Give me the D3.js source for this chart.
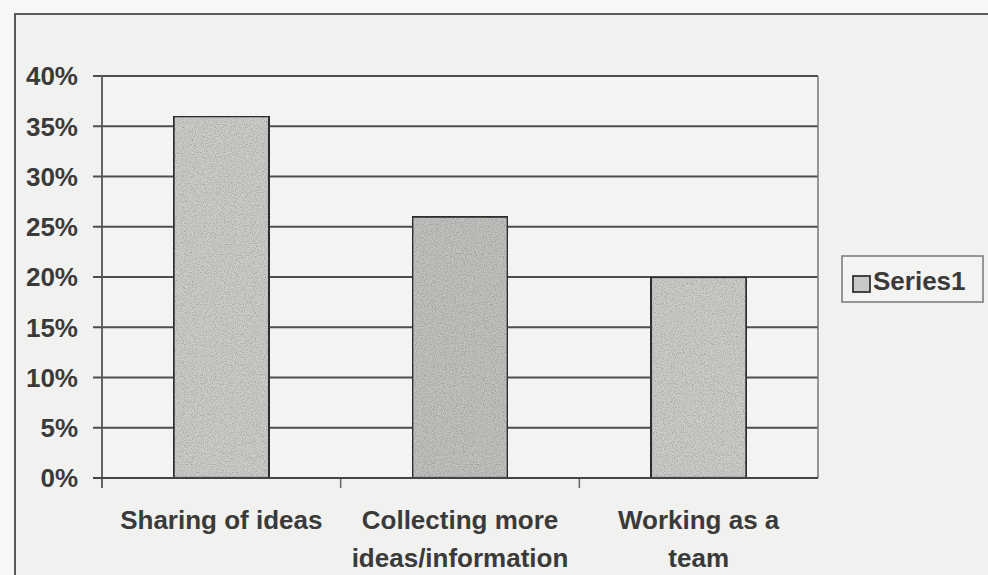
<!DOCTYPE html>
<html>
<head>
<meta charset="utf-8">
<script src="https://cdn.jsdelivr.net/npm/d3@7"></script>
<style>
  html, body { margin: 0; padding: 0; background: #f7f7f5; }
  svg { display: block; }
</style>
</head>
<body>
<script>
const width = 988;
const height = 575;

// Données du graphique
const categories = ["Sharing of ideas", "Collecting more ideas/information", "Working as a team"];
const categoryLines = [["Sharing of ideas"], ["Collecting more", "ideas/information"], ["Working as a", "team"]];
const series1 = [0.36, 0.26, 0.20];
const yTicks = [0, 0.05, 0.10, 0.15, 0.20, 0.25, 0.30, 0.35, 0.40];
const seriesName = "Series1";

const plot = { left: 102, right: 818, top: 76, bottom: 478 };
const font = "'Liberation Sans', Arial, sans-serif";

const svg = d3.select("body")
    .append("svg")
    .attr("width", width)
    .attr("height", height);

// Texture "papier scanné"
const defs = svg.append("defs");
const grain = defs.append("filter").attr("id", "grain")
    .attr("x", 0).attr("y", 0).attr("width", "100%").attr("height", "100%");
grain.append("feTurbulence")
    .attr("type", "fractalNoise")
    .attr("baseFrequency", 0.9)
    .attr("numOctaves", 2)
    .attr("seed", 3)
    .attr("result", "noise");
grain.append("feColorMatrix")
    .attr("in", "noise")
    .attr("type", "matrix")
    .attr("values", "0 0 0 0 0  0 0 0 0 0  0 0 0 0 0  0 0 0 -0.9 0.55")
    .attr("result", "dots");
grain.append("feComposite")
    .attr("in", "dots")
    .attr("in2", "SourceGraphic")
    .attr("operator", "in")
    .attr("result", "dotsIn");
grain.append("feMerge").selectAll("feMergeNode")
    .data(["SourceGraphic", "dotsIn"])
    .enter().append("feMergeNode").attr("in", d => d);

// Cadre extérieur du graphique
svg.append("rect")
    .attr("x", 15).attr("y", 14)
    .attr("width", 1000).attr("height", 600)
    .attr("fill", "#f1f1ef")
    .attr("stroke", "#5a5a5a")
    .attr("stroke-width", 2);

const x = d3.scaleBand()
    .domain(categories)
    .range([plot.left, plot.right])
    .paddingInner(0.6)
    .paddingOuter(0.3);

const y = d3.scaleLinear()
    .domain([0, 0.4])
    .range([plot.bottom, plot.top]);

// Zone de tracé
svg.append("rect")
    .attr("x", plot.left).attr("y", plot.top)
    .attr("width", plot.right - plot.left)
    .attr("height", plot.bottom - plot.top)
    .attr("fill", "#f3f3f1");

// Lignes de grille + graduations
svg.append("g")
    .selectAll("line")
    .data(yTicks)
    .enter()
    .append("line")
    .attr("x1", plot.left - 9)
    .attr("x2", plot.right)
    .attr("y1", d => y(d))
    .attr("y2", d => y(d))
    .attr("stroke", "#4e4e4e")
    .attr("stroke-width", 2);

// Bord droit de la zone de tracé
svg.append("line")
    .attr("x1", plot.right).attr("x2", plot.right)
    .attr("y1", plot.top).attr("y2", plot.bottom)
    .attr("stroke", "#777").attr("stroke-width", 1.5);

// Axe vertical
svg.append("line")
    .attr("x1", plot.left).attr("x2", plot.left)
    .attr("y1", plot.top).attr("y2", plot.bottom + 10)
    .attr("stroke", "#555").attr("stroke-width", 1.8);

// Graduations de l'axe horizontal (entre les catégories)
const boundaries = categories.map(c => x(c) - x.step() * x.paddingInner() / 2).slice(1);
svg.append("g")
    .selectAll("line")
    .data(boundaries)
    .enter()
    .append("line")
    .attr("x1", d => d).attr("x2", d => d)
    .attr("y1", plot.bottom).attr("y2", plot.bottom + 10)
    .attr("stroke", "#666").attr("stroke-width", 1.5);

// Étiquettes de l'axe Y
svg.append("g")
    .selectAll("text")
    .data(yTicks)
    .enter()
    .append("text")
    .attr("x", 78)
    .attr("y", d => y(d))
    .attr("dy", "0.36em")
    .attr("text-anchor", "end")
    .attr("font-family", font)
    .attr("font-weight", "bold")
    .attr("font-size", "26px")
    .attr("fill", "#3a3a3a")
    .text(d => d3.format(".0%")(d));

// Barres
svg.append("g")
    .selectAll("rect")
    .data(series1)
    .enter()
    .append("rect")
    .attr("x", (d, i) => x(categories[i]))
    .attr("y", d => y(d))
    .attr("width", x.bandwidth())
    .attr("height", d => plot.bottom - y(d))
    .attr("fill", (d, i) => i === 1 ? "#c2c2c0" : "#cdcdcb")
    .attr("filter", "url(#grain)")
    .attr("stroke", "#333")
    .attr("stroke-width", 2.2);

// Ligne de base
svg.append("line")
    .attr("x1", plot.left - 9).attr("x2", plot.right)
    .attr("y1", plot.bottom).attr("y2", plot.bottom)
    .attr("stroke", "#444").attr("stroke-width", 2);

// Étiquettes des catégories
const catLabels = svg.append("g")
    .selectAll("text")
    .data(categories)
    .enter()
    .append("text")
    .attr("x", d => x(d) + x.bandwidth() / 2)
    .attr("y", 529)
    .attr("text-anchor", "middle")
    .attr("font-family", font)
    .attr("font-weight", "bold")
    .attr("font-size", "26px")
    .attr("fill", "#3a3a3a");

catLabels.selectAll("tspan")
    .data((d, i) => categoryLines[i])
    .enter()
    .append("tspan")
    .attr("x", function () { return d3.select(this.parentNode).attr("x"); })
    .attr("dy", (d, i) => i === 0 ? 0 : 38)
    .text(d => d);

// Légende
const legend = svg.append("g").attr("transform", "translate(842, 256)");
legend.append("rect")
    .attr("width", 141).attr("height", 46)
    .attr("fill", "#f3f3f1")
    .attr("stroke", "#777")
    .attr("stroke-width", 1.5);
legend.append("rect")
    .attr("x", 11).attr("y", 20)
    .attr("width", 17).attr("height", 16)
    .attr("fill", "#c8c8c6")
    .attr("stroke", "#333")
    .attr("stroke-width", 1.8);
legend.append("text")
    .attr("x", 31).attr("y", 34)
    .attr("font-family", font)
    .attr("font-weight", "bold")
    .attr("font-size", "26px")
    .attr("fill", "#3a3a3a")
    .text(seriesName);
</script>
</body>
</html>
